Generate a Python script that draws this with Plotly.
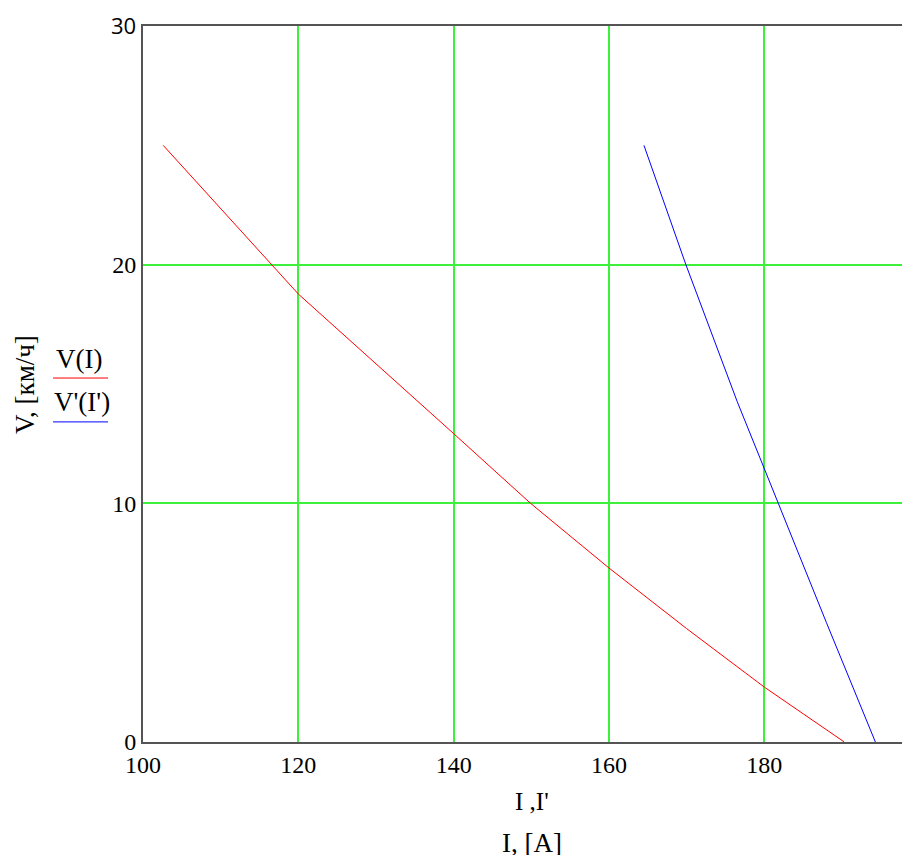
import plotly.graph_objects as go

# Data
I_red = [102.6, 120.0, 140.0, 149.9, 160.0, 170.0, 180.0, 190.3]
V_red = [25.0, 18.77, 12.92, 10.0, 7.29, 4.75, 2.30, 0.0]

I_blue = [164.5, 169.9, 176.5, 180.0, 181.8, 188.0, 194.3]
V_blue = [25.0, 20.0, 14.27, 11.48, 10.0, 5.0, 0.0]

x_ticks = [100, 120, 140, 160, 180]
y_ticks = [0, 10, 20, 30]
y_ticktext = ["0", "10", "20",
              "<span style='font-family:Open Sans, DejaVu Sans, sans-serif;font-size:22px'>30</span>"]

SERIF = "Liberation Serif, Times New Roman, serif"
GRID = "#3cf03c"
AXIS = "#555555"

fig = go.Figure()
fig.add_trace(go.Scatter(x=I_red, y=V_red, mode="lines", name="V(I)",
                         line=dict(color="#ff0000", width=1)))
fig.add_trace(go.Scatter(x=I_blue, y=V_blue, mode="lines", name="V'(I')",
                         line=dict(color="#0000ff", width=1)))

# page has an 8px body margin: figure is 902x847, plot area 765x718
fig.update_layout(
    width=902, height=847,
    margin=dict(l=135, r=2, t=16, b=113),
    paper_bgcolor="white", plot_bgcolor="white",
    showlegend=False,
    font=dict(family=SERIF, size=22, color="black"),
    xaxis=dict(range=[100, 198.5], tickvals=x_ticks, showgrid=True, gridcolor=GRID, gridwidth=2,
               showline=True, linecolor=AXIS, linewidth=2, mirror=True, zeroline=False,
               ticks="", tickfont=dict(family=SERIF, size=24, color="black")),
    yaxis=dict(range=[0, 30], tickvals=y_ticks, ticktext=y_ticktext, showgrid=True, gridcolor=GRID,
               gridwidth=2, showline=True, linecolor=AXIS, linewidth=2, zeroline=False,
               ticks="", ticklabelstandoff=0, tickfont=dict(family=SERIF, size=24, color="black")),
)

def py(p):
    return (742 - p) / 718.0

def px(p):
    return (p - 143) / 765.0

ann = [
    dict(text="I ,I'", x=px(532), y=py(802), size=25),
    dict(text="I, [A]", x=px(532), y=py(843), size=27),
    dict(text="V, [км/ч]", x=px(25), y=py(384), textangle=-90, size=27),
    dict(text="V(I)", x=px(79), y=py(358), size=27),
    dict(text="V'(I')", x=px(82), y=py(401), size=27),
]
for a in ann:
    s = a.pop("size")
    fig.add_annotation(xref="paper", yref="paper", showarrow=False,
                       xanchor="center", yanchor="middle",
                       font=dict(family=SERIF, size=s, color="black"), **a)

fig.add_shape(type="line", xref="paper", yref="paper", x0=px(53), x1=px(108), y0=py(377), y1=py(377),
              line=dict(color="#ff0000", width=1))
fig.add_shape(type="line", xref="paper", yref="paper", x0=px(53), x1=px(108), y0=py(421), y1=py(421),
              line=dict(color="#0000ff", width=1))

fig.write_html("out.html")
